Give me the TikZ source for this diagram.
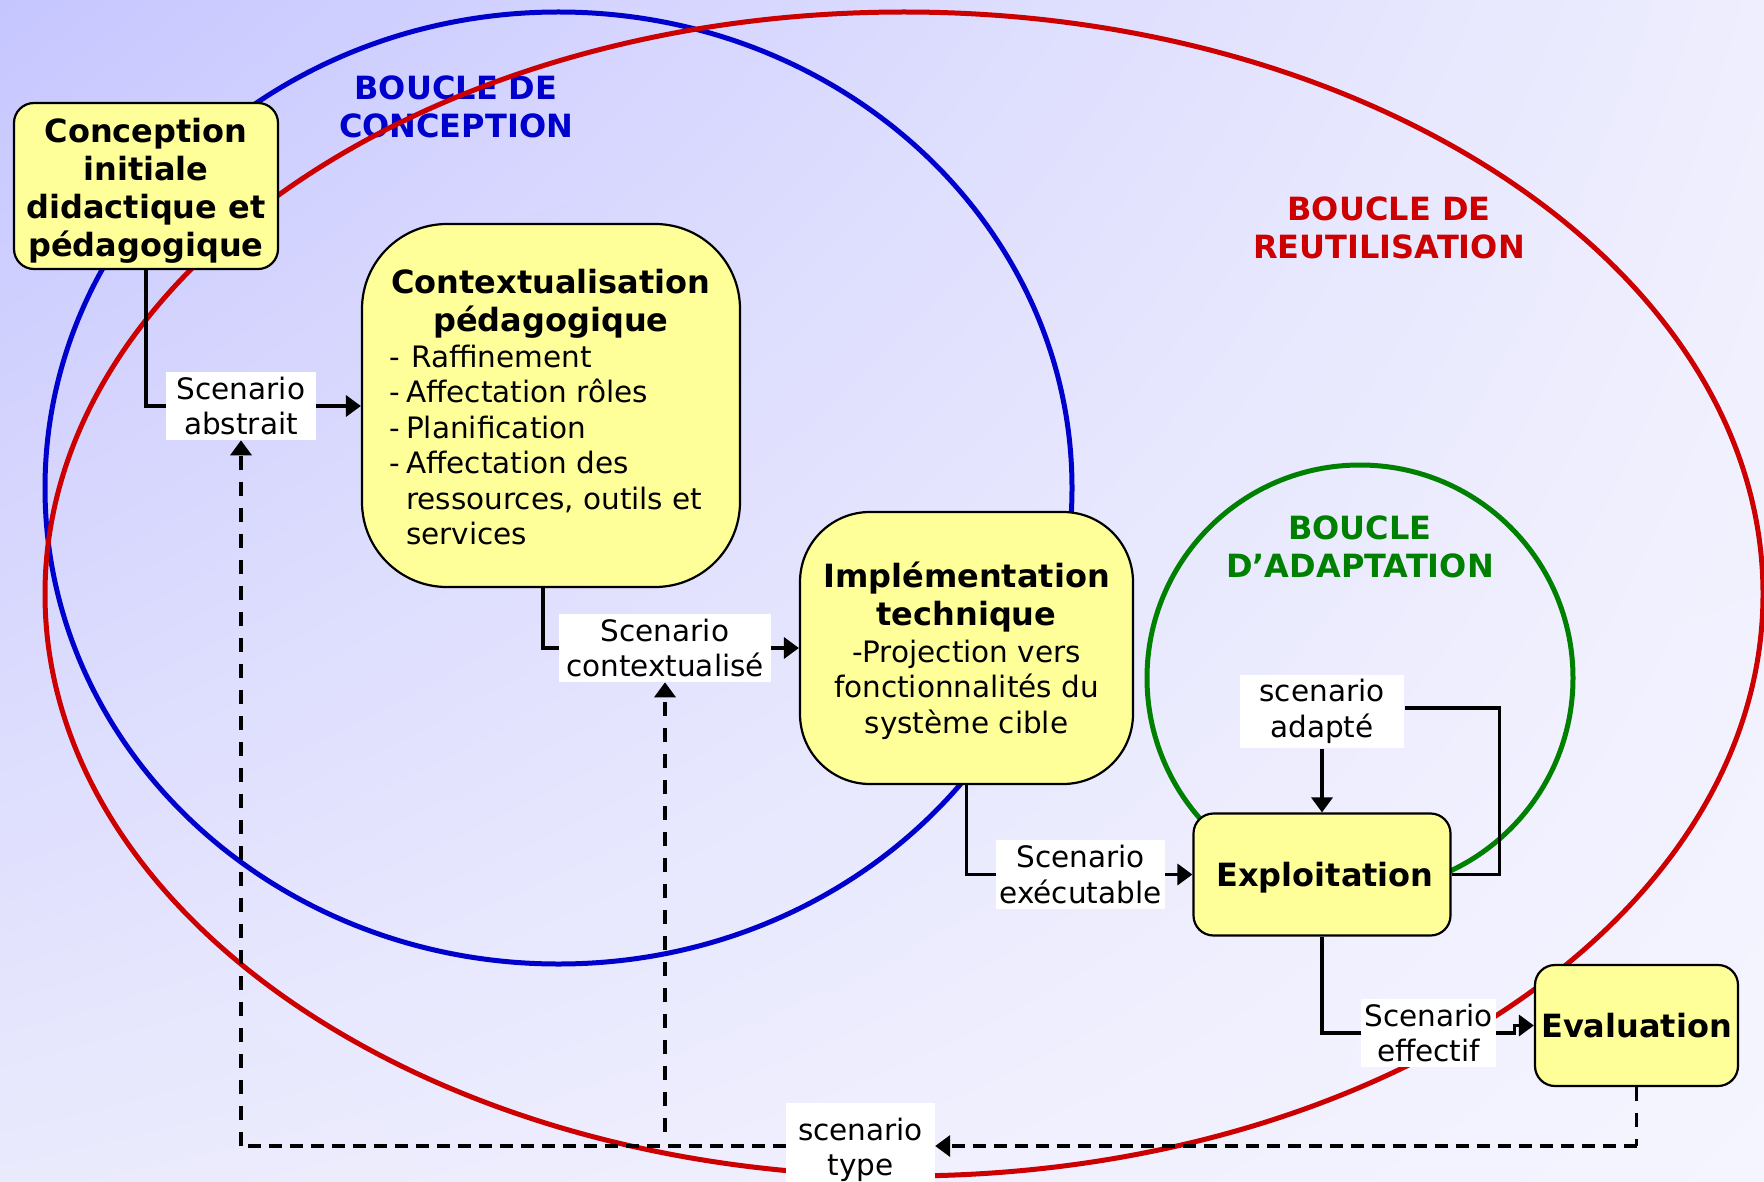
\documentclass[tikz,border=0pt]{standalone}
\usepackage{fontspec}
\setmainfont{DejaVu Sans}
\usetikzlibrary{arrows.meta,shadings}

\definecolor{boxfill}{RGB}{255,255,153}
\definecolor{loopblue}{RGB}{0,0,204}
\definecolor{loopred}{RGB}{204,0,0}
\definecolor{loopgreen}{RGB}{0,128,0}
\definecolor{bgUL}{RGB}{198,198,255}
\definecolor{bgUR}{RGB}{238,238,254}
\definecolor{bgLL}{RGB}{234,234,253}
\definecolor{bgLR}{RGB}{245,245,255}

\tikzset{
  boldtxt/.style={font=\fontsize{32}{38}\selectfont\bfseries},
  plaintxt/.style={font=\fontsize{29.5}{35.4}\selectfont},
  stage/.style={draw=black, line width=2.2pt, fill=boxfill, inner sep=0pt},
  tag/.style={fill=white, inner xsep=10pt, inner ysep=5pt, align=center, plaintxt},
  tip/.style={-{Triangle[length=15pt,width=21pt]}},
  link/.style={line width=3.5pt},
  flow/.style={link, tip},
  vdash/.style={line width=3.5pt, dash pattern=on 14pt off 12pt},
  hdash/.style={line width=3.5pt, dash pattern=on 13pt off 8pt},
  loopline/.style={line width=5pt},
}

\begin{document}
\begin{tikzpicture}[x=1pt, y=-1pt]
  \useasboundingbox (0,0) rectangle (1764,1182);
  \clip (0,0) rectangle (1764,1182);

  % background
  \shade[upper left=bgUL, upper right=bgUR, lower left=bgLL, lower right=bgLR]
    (0,0) rectangle (1764,1182);

  % loop titles
  \node[boldtxt, text=loopblue, align=center] (tconc) at (456,107)
    {BOUCLE DE\\CONCEPTION};
  \node[boldtxt, text=loopred, align=center] (treu) at (1389,228)
    {BOUCLE DE\\REUTILISATION};
  \node[boldtxt, text=loopgreen, align=center] (tadapt) at (1360,547)
    {BOUCLE\\D’ADAPTATION};

  % the three loops
  \draw[loopline, loopblue] (558.5,488) ellipse [x radius=513.5pt, y radius=476pt];
  \draw[loopline, loopred] (904,594) ellipse [x radius=859pt, y radius=582pt];
  \draw[loopline, loopgreen] (1360,678) circle [radius=213pt];

  % stages
  \node[stage, rounded corners=20pt, minimum width=264pt, minimum height=166pt]
    (conc) at (146,186) {};
  \node[boldtxt, align=center] (conctxt) at (146,191)
    {Conception\\initiale\\didactique et\\pédagogique};
  \node[stage, rounded corners=85pt, minimum width=378pt, minimum height=363pt]
    (ctx) at (551,405.5) {};
  \node[boldtxt, align=center] (ctxtitle) at (551,304)
    {Contextualisation\\pédagogique};
  \node[plaintxt, align=left, anchor=west, inner sep=0pt] (ctxbody) at (389,445)
    {\makebox[17pt][l]{-}\hspace{5pt}Raffinement\\
     \makebox[17pt][l]{-}Affectation rôles\\
     \makebox[17pt][l]{-}Planification\\
     \makebox[17pt][l]{-}Affectation des\\
     \hspace*{17pt}ressources, outils et\\
     \hspace*{17pt}services};
  \node[stage, rounded corners=70pt, minimum width=333pt, minimum height=272pt]
    (impl) at (966.5,648) {};
  \node[boldtxt, align=center] (impltitle) at (966.5,597)
    {Implémentation\\technique};
  \node[plaintxt, align=center] (implbody) at (966.5,689.5)
    {-Projection vers\\fonctionnalités du\\système cible};
  \node[stage, rounded corners=20pt, minimum width=257pt, minimum height=122pt]
    (expl) at (1322,874.5) {};
  \node[boldtxt] (expltxt) at (1325,878) {Exploitation};
  \node[stage, rounded corners=20pt, minimum width=203pt, minimum height=121pt,
        boldtxt] (eval) at (1636.5,1025.5) {Evaluation};

  % scenario labels
  \node[tag, inner xsep=10.5pt] (sabs) at (241,406) {Scenario\\abstrait};
  \node[tag, inner xsep=7pt] (sctx) at (665,648) {Scenario\\contextualisé};
  \node[tag, inner xsep=3.5pt] (sexe) at (1080.5,874.5) {Scenario\\exécutable};
  \node[tag, inner xsep=20pt] (sada) at (1322,711.5) {scenario\\adapté};
  \node[tag, inner xsep=3.5pt] (seff) at (1428.5,1033) {Scenario\\effectif};
  \node[tag, inner xsep=12pt, inner ysep=15pt] (styp) at (860.5,1150) {scenario\\type};

  % forward flow
  \draw[link] (conc.south) |- (sabs.west);
  \draw[flow] (sabs.east) -- (sabs.east -| ctx.west);
  \draw[link] ([xshift=-8pt]ctx.south) |- (sctx.west);
  \draw[flow] (sctx.east) -- (sctx.east -| impl.west);
  \draw[link] (impl.south) |- (sexe.west);
  \draw[flow] (sexe.east) -- (sexe.east -| expl.west);
  \draw[link] (expl.south) |- (seff.west);
  \draw[flow] (seff.east) -- ++(18pt,0) |- (eval.west);

  % adaptation loop
  \coordinate (loopR) at ([xshift=48pt]expl.east);
  \coordinate (sadaE) at (sada.east |- 0,708);
  \draw[link] (expl.east) -- (loopR) |- (sadaE);
  \draw[flow] (sada.south) -- (expl.north);

  % reuse return path
  \coordinate (retE) at (eval.south |- 0,1146);
  \coordinate (retA) at (sabs.south |- 0,1146);
  \coordinate (retB) at (sctx.south |- 0,1146);
  \coordinate (typE) at (styp.east |- 0,1146);
  \coordinate (typW) at (styp.west |- 0,1146);
  \draw[vdash] (eval.south) -- (retE);
  \draw[hdash, tip] (retE) -- (typE);
  \draw[hdash] (typW) -- (retA);
  \draw[vdash, tip] (retA) -- (sabs.south);
  \draw[vdash, tip] ([yshift=14pt]retB) -- (sctx.south);
\end{tikzpicture}
\end{document}
